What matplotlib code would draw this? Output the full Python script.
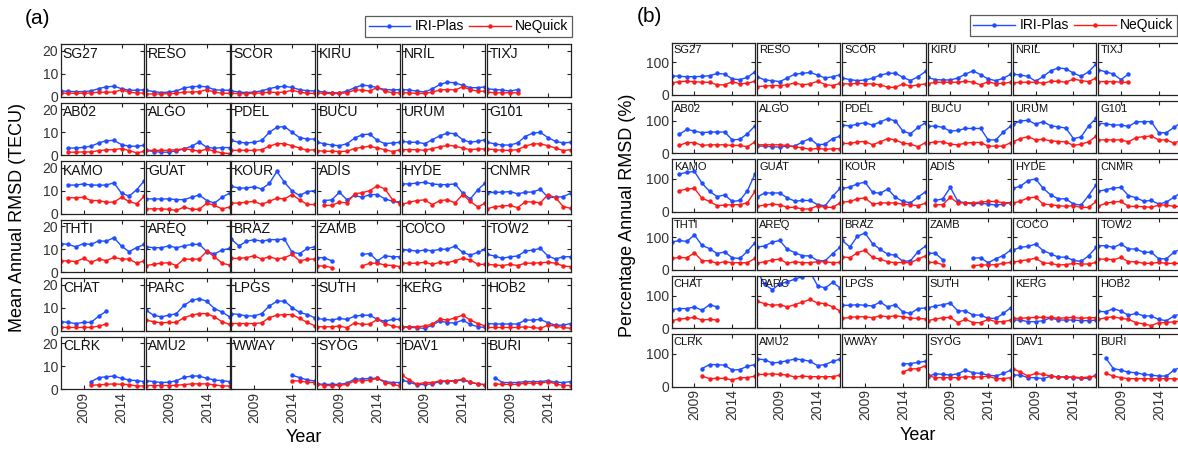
import numpy as np
import matplotlib
matplotlib.use("Agg")
import matplotlib.pyplot as plt
from matplotlib.lines import Line2D

N = None
YEARS = list(range(2006, 2018))
STATIONS = ["SG27", "RESO", "SCOR", "KIRU", "NRIL", "TIXJ",
            "AB02", "ALGO", "PDEL", "BUCU", "URUM", "G101",
            "KAMO", "GUAT", "KOUR", "ADIS", "HYDE", "CNMR",
            "THTI", "AREQ", "BRAZ", "ZAMB", "COCO", "TOW2",
            "CHAT", "PARC", "LPGS", "SUTH", "KERG", "HOB2",
            "CLRK", "AMU2", "WWAY", "SYOG", "DAV1", "BURI"]

# (a) mean annual RMSD, TECU
TEC_IRI = [
    [2.5, 2.3, 2.2, 2.2, 2.5, 3.5, 4.3, 4.5, 3.5, 2.8, 2.8, 3.0],
    [2.8, 2.2, 1.8, 2.0, 2.5, 3.8, 4.3, 4.5, 4.3, 3.0, 2.8, 2.8],
    [2.5, 2.0, 1.8, 2.0, 2.5, 3.5, 4.2, 4.5, 4.0, 3.0, 2.6, 2.5],
    [2.4, 2.0, 1.7, 1.7, 2.4, 3.9, 5.0, 4.7, 3.9, 3.1, 2.9, 3.1],
    [3.1, 2.9, 2.4, 2.0, 3.4, 5.3, 6.3, 6.0, 4.9, 3.9, 3.9, 4.3],
    [3.4, 3.1, 2.9, 2.4, 3.1, N, N, N, N, N, N, N],
    [N, 3.1, 3.1, 3.4, 3.9, 5.3, 6.3, 6.4, 4.6, 3.9, 3.9, 4.3],
    [2.1, 1.6, 1.3, 1.3, 1.9, 2.7, 3.9, 5.7, 3.4, 3.0, 3.3, 3.3],
    [6.4, 5.6, 5.3, 5.6, 6.4, 9.9, 12.1, 12.4, 9.9, 7.6, 7.0, 7.0],
    [5.6, 5.0, 4.4, 4.1, 5.0, 7.4, 8.9, 9.1, 6.4, 5.0, 5.3, 5.6],
    [6.0, 5.6, 5.6, 5.0, 6.7, 8.4, 9.6, 9.3, 6.7, 5.6, 6.1, 6.7],
    [5.6, 4.9, 4.4, 4.4, 5.3, 8.1, 9.6, 9.9, 7.6, 6.0, 5.3, 5.6],
    [N, 12.4, 12.4, 12.9, 12.4, 12.4, 12.4, 13.4, 8.9, 7.6, 10.4, 14.3],
    [6.4, 6.4, 6.4, 6.4, 6.1, 6.1, 7.1, 8.1, 5.7, 4.6, 7.1, 8.9],
    [11.9, 11.1, 11.1, 11.7, 10.7, 13.1, 18.3, 13.6, 9.8, 7.9, 9.6, 10.0],
    [N, 5.7, 6.0, 9.3, 6.0, 7.9, 7.1, 8.3, 8.3, 6.4, 5.4, 5.0],
    [12.9, 12.9, 13.3, 13.6, 12.9, 12.6, 12.6, 12.9, 8.9, 6.4, 10.4, 13.4],
    [9.0, 9.3, 9.3, 9.6, 8.6, 9.3, 9.4, 10.6, 7.1, 7.1, 7.4, 8.9],
    [12.4, 12.0, 11.0, 12.4, 12.0, 13.6, 13.4, 15.0, 11.3, 8.9, 10.7, 12.0],
    [11.0, 10.6, 10.6, 11.4, 10.6, 11.4, 12.0, 12.1, 8.9, 7.9, 9.6, 10.3],
    [14.3, 11.4, 13.4, 14.1, 13.4, 14.1, 14.1, 14.3, 8.6, 8.1, 10.3, 11.0],
    [6.3, 6.3, 4.9, N, N, N, 7.7, 8.1, 4.9, 7.1, 6.7, 6.7],
    [9.6, 9.6, 9.1, 9.6, 9.3, 9.9, 10.0, 11.3, 8.6, 7.4, 8.6, 9.9],
    [7.7, 7.0, 6.0, 6.7, 7.0, 9.1, 9.6, 10.3, 7.0, 5.7, 6.7, 6.7],
    [3.9, 3.6, 3.1, 3.6, 3.6, 6.3, 8.4, N, N, N, N, N],
    [8.9, 6.7, 6.0, 6.7, 7.4, 11.0, 13.1, 13.9, 12.7, 9.6, 8.1, 6.0],
    [7.4, 7.0, 6.4, 6.4, 7.4, 10.7, 12.7, 12.9, 10.0, 7.9, 7.0, 5.6],
    [5.3, 4.9, 4.6, 5.3, 4.9, 6.3, 6.7, 6.7, 4.9, 4.1, 4.9, 4.9],
    [1.7, 1.4, 1.3, 1.0, 2.4, 4.3, 3.4, 3.4, 4.6, 2.7, 1.7, 1.4],
    [3.1, 2.9, 2.9, 2.9, 2.9, 4.6, 4.6, 4.9, 3.4, 2.4, 2.4, 3.1],
    [N, N, N, N, 3.3, 5.0, 5.4, 5.7, 4.7, 4.0, 3.7, 3.3],
    [3.7, 3.3, 2.9, 3.0, 3.7, 5.1, 5.7, 5.7, 4.7, 4.0, 3.7, 3.3],
    [N, N, N, N, N, N, N, N, 6.1, 5.0, 4.0, 3.6],
    [2.3, 2.1, 2.1, 2.1, 2.6, 4.4, 4.4, 4.7, 4.7, 3.3, 2.9, 2.9],
    [4.0, 3.0, 1.9, 2.1, 2.3, 3.3, 3.3, 3.6, 4.0, 3.0, 2.3, 1.9],
    [N, 5.0, 2.9, 2.9, 2.9, 3.3, 3.3, 3.3, 3.7, 3.0, 2.9, 3.3],
]
TEC_NEQ = [
    [1.5, 1.5, 1.5, 1.5, 1.6, 2.0, 1.9, 2.0, 3.0, 2.0, 1.6, 1.6],
    [1.2, 1.2, 1.2, 1.3, 1.5, 2.0, 2.0, 2.2, 3.0, 2.0, 1.5, 1.5],
    [1.5, 1.3, 1.3, 1.5, 1.6, 2.0, 1.8, 2.0, 2.8, 2.0, 1.5, 1.4],
    [1.7, 1.4, 1.4, 1.4, 1.7, 2.9, 2.9, 2.4, 4.1, 2.4, 1.7, 1.7],
    [1.7, 1.7, 1.4, 1.4, 2.0, 2.9, 3.1, 2.9, 4.3, 3.1, 2.4, 2.4],
    [2.0, 1.7, 1.7, 1.7, 1.7, N, N, N, N, N, N, N],
    [N, 1.3, 1.3, 1.4, 1.4, 2.0, 2.3, 2.4, 2.9, 2.0, 1.0, 1.7],
    [2.1, 2.1, 2.1, 2.1, 2.4, 2.7, 2.4, 1.7, 2.7, 1.7, 1.0, 0.7],
    [2.1, 2.1, 2.1, 2.1, 2.4, 3.9, 5.0, 5.0, 4.1, 3.1, 2.1, 2.4],
    [2.0, 1.7, 1.7, 1.6, 1.7, 2.9, 3.4, 3.9, 3.1, 2.4, 1.6, 2.4],
    [2.4, 2.4, 2.4, 2.1, 2.9, 3.6, 4.3, 3.9, 3.1, 2.4, 2.7, 2.7],
    [2.7, 2.4, 2.1, 2.1, 2.4, 3.9, 4.9, 4.9, 4.1, 3.1, 2.0, 2.4],
    [N, 6.9, 6.9, 7.1, 5.7, 5.7, 5.0, 5.0, 7.1, 5.3, 4.3, 7.6],
    [2.1, 2.1, 2.1, 1.9, 1.4, 2.9, 1.9, 1.9, 4.6, 3.6, 2.1, 2.9],
    [4.6, 4.6, 5.0, 5.3, 4.0, 5.4, 6.7, 6.4, 8.3, 6.0, 4.0, 4.0],
    [N, 3.6, 3.6, 5.0, 4.7, 8.6, 9.1, 10.0, 12.1, 10.7, 6.0, 4.3],
    [4.0, 5.0, 5.7, 6.0, 3.9, 5.7, 6.0, 4.7, 8.3, 5.3, 2.9, 4.7],
    [2.1, 3.1, 3.3, 3.6, 2.6, 5.1, 5.1, 4.7, 8.3, 6.9, 3.1, 2.3],
    [4.9, 4.9, 4.6, 6.0, 4.3, 5.7, 5.0, 6.4, 5.7, 5.7, 3.9, 4.9],
    [2.9, 3.4, 3.9, 4.1, 2.9, 5.7, 5.6, 5.7, 9.1, 6.7, 3.9, 3.1],
    [6.0, 6.0, 6.3, 7.1, 5.7, 6.7, 5.7, 6.3, 7.7, 4.9, 5.6, 5.7],
    [2.7, 2.7, 2.0, N, N, N, 2.7, 3.9, 3.9, 3.1, 2.9, 2.4],
    [3.9, 3.9, 3.9, 4.3, 3.4, 4.3, 4.1, 5.0, 6.0, 5.3, 3.4, 3.4],
    [3.4, 3.1, 2.9, 3.4, 2.9, 3.9, 3.9, 4.1, 4.3, 3.9, 2.7, 2.4],
    [1.4, 1.4, 1.4, 1.4, 1.4, 2.0, 2.9, N, N, N, N, N],
    [4.6, 3.9, 3.4, 3.6, 3.6, 5.7, 6.7, 7.4, 7.4, 6.0, 3.9, 2.7],
    [3.1, 3.1, 3.1, 3.1, 3.4, 5.7, 6.7, 7.0, 7.0, 5.3, 3.6, 2.1],
    [1.7, 1.7, 1.7, 2.0, 1.3, 3.4, 2.7, 2.9, 4.9, 3.1, 2.0, 1.4],
    [1.7, 1.7, 1.7, 2.0, 2.9, 5.0, 4.6, 5.6, 6.7, 4.6, 3.1, 2.0],
    [1.4, 1.4, 1.4, 1.4, 1.4, 1.7, 1.4, 1.0, 2.4, 2.0, 1.4, 1.0],
    [N, N, N, N, 1.7, 1.9, 2.1, 2.3, 2.1, 2.0, 1.4, 1.4],
    [1.6, 1.6, 1.6, 1.6, 1.7, 2.0, 2.3, 2.3, 2.3, 1.9, 1.4, 1.4],
    [N, N, N, N, N, N, N, N, 3.6, 3.6, 3.0, 2.9],
    [2.3, 1.6, 1.6, 1.7, 2.1, 3.6, 3.6, 4.0, 4.7, 2.9, 2.1, 1.4],
    [6.1, 4.0, 2.1, 2.9, 2.9, 3.6, 3.6, 3.7, 4.3, 3.0, 2.3, 1.9],
    [N, 2.3, 2.1, 2.1, 2.1, 2.6, 2.6, 2.6, 3.3, 2.3, 1.6, 1.6],
]

# (b) percentage annual RMSD, %
PCT_IRI = [
    [59, 57, 56, 56, 57, 59, 66, 64, 49, 47, 54, 71],
    [56, 46, 44, 41, 52, 64, 66, 69, 61, 52, 56, 62],
    [52, 47, 44, 46, 51, 61, 66, 67, 54, 44, 56, 72],
    [54, 47, 46, 46, 52, 64, 74, 62, 49, 44, 51, 64],
    [64, 61, 57, 42, 57, 74, 83, 80, 67, 57, 71, 95],
    [77, 71, 64, 47, 64, N, N, N, N, N, N, N],
    [N, 58, 73, 68, 63, 65, 65, 65, 41, 43, 60, 84],
    [22, 22, 20, 19, 22, 22, 35, 45, 26, 28, 45, 53],
    [86, 84, 89, 94, 86, 96, 106, 99, 68, 60, 79, 94],
    [82, 84, 79, 68, 70, 76, 76, 76, 41, 41, 65, 84],
    [89, 99, 101, 89, 97, 84, 81, 77, 45, 50, 84, 107],
    [91, 91, 86, 87, 82, 96, 97, 97, 63, 63, 79, 95],
    [N, 115, 120, 123, 87, 62, 46, 51, 31, 34, 64, 115],
    [44, 57, 57, 57, 42, 32, 34, 34, 21, 18, 47, 72],
    [71, 75, 85, 90, 59, 56, 69, 44, 31, 27, 44, 61],
    [N, 34, 39, 74, 31, 27, 23, 26, 23, 20, 23, 27],
    [71, 78, 95, 100, 71, 51, 39, 39, 23, 20, 49, 82],
    [62, 67, 72, 74, 49, 42, 32, 34, 23, 29, 44, 59],
    [85, 90, 87, 107, 75, 65, 50, 55, 37, 35, 57, 83],
    [70, 73, 85, 90, 63, 53, 43, 43, 28, 28, 50, 70],
    [90, 70, 103, 113, 80, 63, 48, 45, 26, 28, 56, 73],
    [51, 51, 31, N, N, N, 36, 37, 22, 34, 44, 61],
    [61, 69, 72, 79, 59, 49, 39, 39, 29, 26, 43, 69],
    [74, 74, 69, 79, 64, 64, 54, 54, 34, 34, 54, 65],
    [57, 60, 60, 65, 55, 72, 65, N, N, N, N, N],
    [175, 135, 118, 135, 142, 150, 158, 172, 130, 123, 140, 123],
    [70, 70, 72, 70, 68, 80, 65, 72, 50, 45, 60, 62],
    [62, 68, 72, 77, 53, 53, 40, 40, 30, 30, 45, 63],
    [25, 25, 20, 20, 23, 32, 25, 25, 25, 23, 23, 25],
    [52, 50, 60, 52, 40, 45, 38, 37, 27, 23, 37, 45],
    [N, N, N, N, 55, 67, 67, 65, 50, 52, 62, 67],
    [84, 82, 72, 74, 79, 84, 82, 77, 64, 67, 77, 84],
    [N, N, N, N, N, N, N, N, 69, 70, 74, 77],
    [30, 39, 37, 35, 39, 50, 42, 40, 35, 32, 40, 50],
    [35, 35, 27, 27, 24, 32, 29, 29, 27, 25, 25, 35],
    [N, 87, 55, 50, 44, 42, 37, 35, 32, 32, 50, 60],
]
PCT_NEQ = [
    [37, 41, 42, 41, 39, 39, 31, 31, 41, 34, 36, 42],
    [26, 27, 29, 29, 31, 37, 31, 34, 42, 32, 29, 36],
    [34, 34, 36, 34, 34, 31, 24, 23, 34, 27, 31, 34],
    [34, 39, 39, 39, 39, 42, 39, 31, 41, 34, 36, 39],
    [37, 39, 39, 39, 36, 42, 42, 39, 49, 44, 41, 52],
    [41, 41, 41, 39, 39, N, N, N, N, N, N, N],
    [N, 24, 33, 33, 24, 26, 26, 26, 24, 24, 20, 35],
    [26, 26, 26, 26, 24, 19, 17, 12, 15, 12, 14, 14],
    [30, 30, 35, 36, 26, 35, 45, 41, 31, 28, 20, 33],
    [31, 35, 35, 28, 26, 31, 33, 33, 22, 22, 22, 33],
    [35, 45, 51, 41, 43, 38, 36, 35, 24, 28, 35, 53],
    [41, 41, 41, 41, 35, 48, 51, 53, 41, 41, 31, 40],
    [N, 64, 69, 71, 41, 31, 18, 20, 21, 21, 27, 62],
    [16, 20, 23, 21, 13, 13, 8, 8, 18, 13, 13, 27],
    [29, 31, 39, 42, 23, 26, 27, 26, 23, 21, 18, 26],
    [N, 21, 21, 44, 26, 27, 27, 29, 31, 31, 27, 27],
    [26, 32, 42, 44, 23, 21, 18, 16, 18, 13, 13, 31],
    [16, 26, 29, 31, 16, 16, 15, 13, 20, 20, 16, 16],
    [35, 38, 37, 52, 28, 28, 20, 25, 22, 22, 22, 35],
    [20, 25, 30, 33, 20, 25, 22, 22, 25, 25, 22, 23],
    [40, 37, 53, 60, 38, 33, 25, 22, 23, 22, 33, 43],
    [23, 23, 16, N, N, N, 13, 15, 15, 16, 20, 23],
    [23, 28, 31, 36, 21, 20, 15, 16, 20, 18, 18, 23],
    [33, 33, 31, 38, 25, 25, 20, 20, 23, 20, 20, 20],
    [23, 28, 30, 33, 25, 27, 25, N, N, N, N, N],
    [83, 75, 70, 72, 65, 72, 80, 88, 77, 75, 65, 52],
    [30, 33, 35, 35, 32, 38, 35, 38, 35, 31, 30, 28],
    [23, 28, 32, 33, 17, 27, 17, 17, 27, 20, 20, 25],
    [30, 30, 32, 33, 33, 33, 30, 32, 33, 30, 32, 32],
    [27, 32, 35, 30, 27, 17, 13, 8, 17, 17, 20, 22],
    [N, N, N, N, 32, 24, 25, 25, 20, 27, 27, 32],
    [37, 37, 39, 37, 35, 29, 32, 30, 30, 30, 30, 35],
    [N, N, N, N, N, N, N, N, 44, 54, 54, 64],
    [34, 27, 27, 27, 27, 30, 29, 29, 32, 24, 24, 27],
    [55, 44, 32, 40, 37, 32, 29, 29, 29, 27, 29, 32],
    [N, 40, 32, 27, 24, 24, 24, 24, 24, 24, 24, 22],
]

BLUE = "#1f4dff"
RED = "#ff1a1a"
TXT = "#333333"
W, H = 1178, 449

plt.rcParams["font.family"] = ["Liberation Sans", "DejaVu Sans"]

fig = plt.figure(figsize=(W / 100, H / 100), dpi=100)


def arr(v):
    return np.array([np.nan if x is None else x for x in v], dtype=float)


def panel(left, top, w, h, dx, dy, iri, neq, ylim, yticks, lab_fs):
    for i, name in enumerate(STATIONS):
        r, c = divmod(i, 6)
        x0 = left + c * dx
        y0 = top + r * dy
        ax = fig.add_axes([x0 / W, 1 - (y0 + h) / H, w / W, h / H])
        ax.plot(YEARS, arr(iri[i]), "-o", color=BLUE, lw=1.0, ms=2.2)
        ax.plot(YEARS, arr(neq[i]), "-o", color=RED, lw=1.0, ms=2.2)
        ax.set_xlim(2006, 2017)
        ax.set_ylim(*ylim)
        ax.set_xticks([2009, 2014])
        ax.set_yticks(yticks)
        ax.tick_params(direction="in", length=3, width=0.8, top=True, right=True,
                       labelsize=10, colors="#222222", labelcolor=TXT, pad=2)
        for s in ax.spines.values():
            s.set_color("#222222")
            s.set_linewidth(0.9)
        if c != 0:
            ax.set_yticklabels([])
        if r != 5:
            ax.set_xticklabels([])
        else:
            ax.set_xticklabels(["2009", "2014"], rotation=90)
        ax.text(0.025, 0.95, name, transform=ax.transAxes, ha="left", va="top",
                fontsize=lab_fs, color="#111111")


panel(60.7, 44.3, 83.6, 52.4, 85.3, 58.5, TEC_IRI, TEC_NEQ, (0, 22.7), [0, 10, 20], 10)
panel(671.7, 42.7, 83.3, 52.3, 85.3, 58.3, PCT_IRI, PCT_NEQ, (0, 160), [0, 100], 8)

handles = [Line2D([], [], color=BLUE, marker="o", ms=2.2, lw=1.0),
           Line2D([], [], color=RED, marker="o", ms=2.2, lw=1.0)]
labels = ["IRI-Plas", "NeQuick"]
for x, y, loc in [(572 / W, 1 - 16 / H, "upper right"), (970 / W, 1 - 15 / H, "upper left")]:
    leg = fig.legend(handles, labels, loc=loc, bbox_to_anchor=(x, y), ncol=2,
                     fontsize=10, frameon=True, fancybox=False, numpoints=1,
                     handlelength=3.0, handletextpad=0.3, columnspacing=0.4,
                     borderpad=0.25, borderaxespad=0)
    leg.get_frame().set_edgecolor("#333333")
    leg.get_frame().set_linewidth(0.9)

fig.text(37 / W, 1 - 18 / H, "(a)", fontsize=15, ha="center", va="center")
fig.text(649 / W, 1 - 16 / H, "(b)", fontsize=15, ha="center", va="center")
fig.text(18 / W, 1 - 217 / H, "Mean Annual RMSD (TECU)", rotation=90,
         fontsize=13, ha="center", va="center")
fig.text(628 / W, 1 - 215 / H, "Percentage Annual RMSD (%)", rotation=90,
         fontsize=13, ha="center", va="center")
fig.text(304 / W, 1 - 438 / H, "Year", fontsize=13, ha="center", va="center")
fig.text(918 / W, 1 - 435 / H, "Year", fontsize=13, ha="center", va="center")

fig.savefig("out.png", dpi=100)
